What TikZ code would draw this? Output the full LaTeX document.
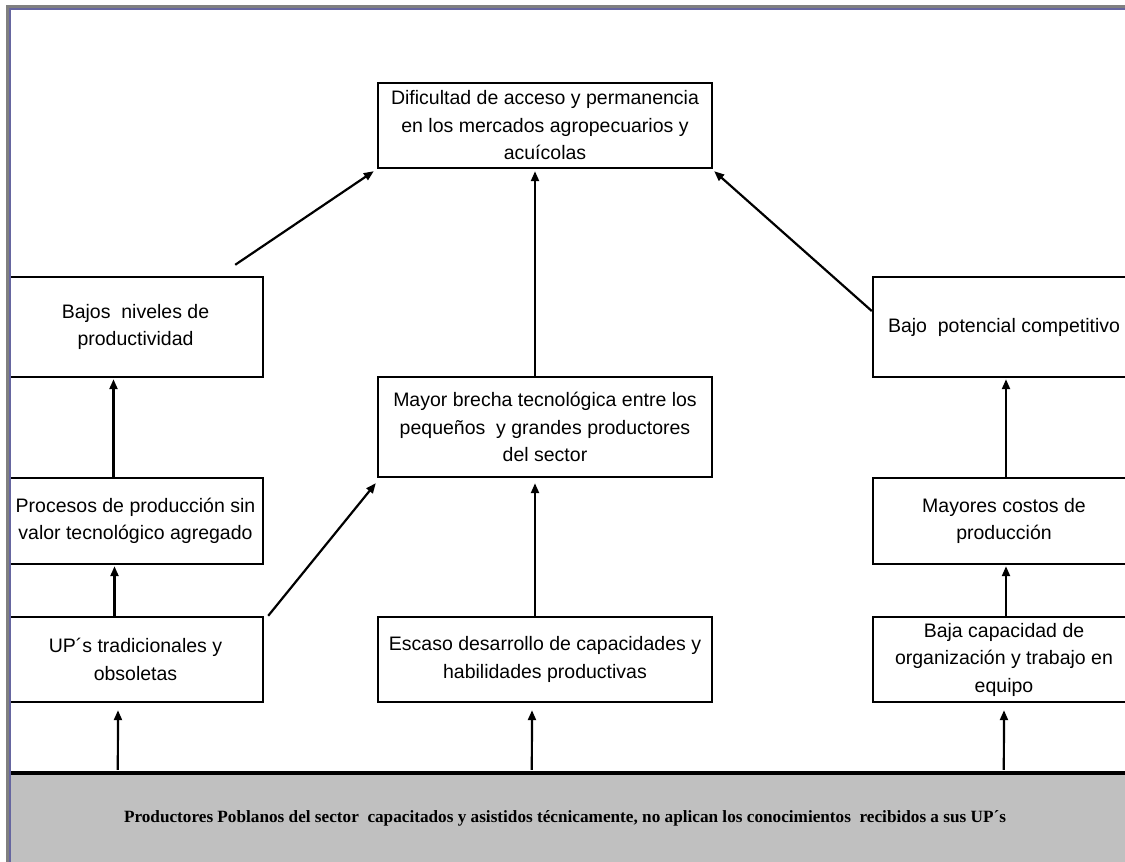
\documentclass[tikz,border=0pt]{standalone}
\usepackage{fontspec}
\setmainfont{Liberation Sans}
\newfontfamily\basefont{Liberation Serif}
\usetikzlibrary{arrows.meta,calc}

\definecolor{frameGray}{RGB}{128,128,128}
\definecolor{frameBlue}{RGB}{102,102,160}
\definecolor{barGray}{RGB}{192,192,192}

\tikzset{
  card/.style={draw=black, line width=2.4pt, inner sep=0pt, align=center,
    font=\fontsize{19.5}{27.5}\selectfont},
  link/.style={line width=2.2pt, -{Triangle[length=10pt,width=8pt]}},
}

\begin{document}
\begin{tikzpicture}[x=1pt,y=-1pt]
\useasboundingbox (0,0) rectangle (1125,862);

% problem boxes
\node[card, minimum width=334pt, minimum height=85pt]  (dif)       at (545,125.5)  {Dificultad de acceso y permanencia\\en los mercados agropecuarios y\\acuícolas};
\node[card, minimum width=255pt, minimum height=100pt] (bajos)     at (135.5,327)  {Bajos~ niveles de\\productividad};
\node[card, minimum width=262pt, minimum height=100pt] (potencial) at (1004,327)   {Bajo~ potencial competitivo};
\node[card, minimum width=334pt, minimum height=100pt] (brecha)    at (545,427)    {Mayor brecha tecnológica entre los\\pequeños~ y grandes productores\\del sector};
\node[card, minimum width=255pt, minimum height=86pt]  (procesos)  at (135.5,521)  {Procesos de producción sin\\valor tecnológico agregado};
\node[card, minimum width=262pt, minimum height=86pt]  (costos)    at (1004,521)   {Mayores costos de\\producción};
\node[card, minimum width=255pt, minimum height=85pt]  (up)        at (135.5,659.5){UP´s tradicionales y\\obsoletas};
\node[card, minimum width=334pt, minimum height=85pt]  (escaso)    at (545,659.5)  {Escaso desarrollo de capacidades y\\habilidades productivas};
\node[card, minimum width=262pt, minimum height=85pt]  (baja)      at (1004,659.5) {Baja capacidad de\\organización y trabajo en\\equipo};

% base band
\fill[barGray] (10,773) rectangle (1125,862);
\node[minimum width=1115pt, minimum height=89pt, inner sep=0pt] (base) at (567.5,817.5) {};
\draw[line width=4pt] (base.north west) -- (base.north east);
\node[font=\basefont\bfseries\fontsize{17.2}{20}\selectfont] (basetext) at (565,818)
  {Productores Poblanos del sector~ capacitados y asistidos técnicamente, no aplican los conocimientos~ recibidos a sus UP´s};

% connectors
\draw[link] ($(bajos.north east)+(-29,-11)$) -- ($(dif.south west)+(-3,2)$);
\draw[link] ($(brecha.north)+(-10,0)$) -- ($(dif.south)+(-10,2)$);
\draw[link] ($(potencial.west)+(0,-16)$) -- ($(dif.south east)+(1,2)$);
\draw[link] ($(procesos.north)+(-22,0)$) -- ($(bajos.south)+(-22,1)$);
\draw[link] ($(up.north)+(-21,0)$) -- ($(procesos.south)+(-21,1)$);
\draw[link] ($(up.north east)+(4,0)$) -- ($(brecha.south west)+(-1,5)$);
\draw[link] ($(escaso.north)+(-10,0)$) -- ($(brecha.south)+(-10,5)$);
\draw[link] ($(costos.north)+(2,0)$) -- ($(potencial.south)+(2,1)$);
\draw[link] ($(baja.north)+(2,0)$) -- ($(costos.south)+(2,1)$);
\draw[link] ($(base.north west)+(108,-3)$) -- ($(up.south)+(-17.5,7)$);
\draw[link] ($(base.north west)+(522,-3)$) -- ($(escaso.south)+(-13,7)$);
\draw[link] ($(base.north west)+(994,-3)$) -- ($(baja.south)+(0,7)$);

% page frame
\draw[frameGray, line width=3.5pt] (7.25,862) -- (7.25,6.5) -- (1125,6.5);
\draw[frameBlue, line width=1.5pt] (9.8,862) -- (9.8,9.2) -- (1125,9.2);
\end{tikzpicture}
\end{document}
